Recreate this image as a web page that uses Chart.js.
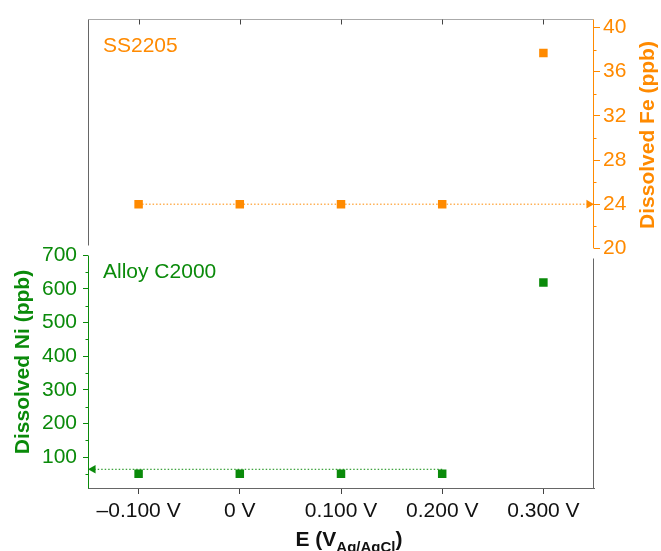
<!DOCTYPE html>
<html>
<head>
<meta charset="utf-8">
<script src="https://cdn.jsdelivr.net/npm/chart.js@4.4.0/dist/chart.umd.min.js"></script>
<style>
  body { margin: 0; background: #fff; }
  #wrap { width: 661px; height: 551px; }
</style>
</head>
<body>
<div id="wrap"><canvas id="myChart" width="661" height="551"></canvas></div>
<script>
// datos
const categories = ['\u20130.100 V', '0 V', '0.100 V', '0.200 V', '0.300 V']
const feValues = [24, 24, 24, 24, 37.7]
const niValues = [51, 51, 51, 51, 619]
const feTicks = [20, 24, 28, 32, 36, 40]
const niTicks = [100, 200, 300, 400, 500, 600, 700]
const feMinor = [22, 26, 30, 34, 38]
const niMinor = [50, 150, 250, 350, 450, 550, 650]
// lineas punteadas con flecha hacia el eje
const feGuideX = [0, 4.45]
const feGuideY = 24
const niGuideX = [3, -0.45]
const niGuideY = 64

const ORANGE = '#ff8a00'
const GREEN = '#0a8a0a'
const GREY = '#666'
const FONT = 'Liberation Sans, Arial, Helvetica, sans-serif'

Chart.defaults.font.family = FONT
Chart.defaults.animation = false

const toPts = arr => arr.map((v, i) => ({ x: i, y: v }))

// marcos, ticks menores y textos
const extras = {
  id: 'extras',
  beforeDatasetsDraw(chart) {
    const { ctx, chartArea: a, scales } = chart
    const fe = scales.yFe, ni = scales.yNi, x = scales.x
    const fe20 = Math.round(fe.getPixelForValue(20)) + 0.5
    const ni700 = Math.round(ni.getPixelForValue(700)) + 0.5
    const L = Math.round(a.left) + 0.5, R = Math.round(a.right) - 0.5
    const T = Math.round(a.top) + 0.5, B = Math.round(a.bottom) + 0.5
    ctx.save()
    ctx.lineWidth = 1
    const line = (x1, y1, x2, y2, c) => {
      ctx.strokeStyle = c
      ctx.beginPath(); ctx.moveTo(x1, y1); ctx.lineTo(x2, y2); ctx.stroke()
    }
    line(L, T, R, T, '#aaa')
    line(L, T, L, fe20 - 3, GREY)
    line(R, T, R, fe20, ORANGE)
    line(L, ni700, L, B, GREEN)
    line(R, ni700 + 3, R, B, GREY)
    // ticks arriba, hacia adentro
    categories.forEach((c, i) => {
      const px = Math.round(x.getPixelForValue(i)) + 0.5
      line(px, T, px, T + 5, '#444')
    })
    feMinor.forEach(v => {
      const py = Math.round(fe.getPixelForValue(v)) + 0.5
      line(R, py, R + 3, py, ORANGE)
    })
    niMinor.forEach(v => {
      const py = Math.round(ni.getPixelForValue(v)) + 0.5
      line(L, py, L - 3, py, GREEN)
    })
    ctx.restore()
  },
  afterDraw(chart) {
    const { ctx } = chart
    ctx.save()
    ctx.textBaseline = 'alphabetic'
    ctx.textAlign = 'left'
    ctx.font = '21px ' + FONT
    ctx.fillStyle = ORANGE
    ctx.fillText('SS2205', 103, 52)
    ctx.fillStyle = GREEN
    ctx.fillText('Alloy C2000', 103, 278)

    // titulo eje x con subindice
    const big = 'bold 21px ' + FONT, small = 'bold 15px ' + FONT
    ctx.font = big
    const w1 = ctx.measureText('E (V').width
    const w3 = ctx.measureText(')').width
    ctx.font = small
    const w2 = ctx.measureText('Ag/AgCl').width
    let sx = 349 - (w1 + w2 + w3) / 2
    ctx.fillStyle = '#111'
    ctx.font = big
    ctx.fillText('E (V', sx, 546)
    ctx.font = small
    ctx.fillText('Ag/AgCl', sx + w1, 552)
    ctx.font = big
    ctx.fillText(')', sx + w1 + w2, 546)

    // titulos ejes y
    ctx.textAlign = 'center'
    ctx.textBaseline = 'middle'
    ctx.font = big
    ctx.fillStyle = GREEN
    ctx.translate(23, 362)
    ctx.rotate(-Math.PI / 2)
    ctx.fillText('Dissolved Ni (ppb)', 0, 0)
    ctx.setTransform(1, 0, 0, 1, 0, 0)
    ctx.fillStyle = ORANGE
    ctx.translate(648, 135)
    ctx.rotate(-Math.PI / 2)
    ctx.fillText('Dissolved Fe (ppb)', 0, 0)
    ctx.restore()
  }
}

const ctx = document.getElementById('myChart')

new Chart(ctx, {
  type: 'scatter',
  data: {
    datasets: [
      {
        data: toPts(feValues), yAxisID: 'yFe',
        pointStyle: 'rect', pointRadius: 6, backgroundColor: ORANGE, borderWidth: 0
      },
      {
        data: toPts(niValues), yAxisID: 'yNi',
        pointStyle: 'rect', pointRadius: 6, backgroundColor: GREEN, borderWidth: 0
      },
      {
        data: feGuideX.map(v => ({ x: v, y: feGuideY })), yAxisID: 'yFe',
        showLine: true, borderColor: ORANGE, borderWidth: 1, borderDash: [1.5, 2],
        pointStyle: 'triangle', pointRadius: [0, 5], pointRotation: 90,
        backgroundColor: ORANGE, pointBorderWidth: 0
      },
      {
        data: niGuideX.map(v => ({ x: v, y: niGuideY })), yAxisID: 'yNi',
        showLine: true, borderColor: GREEN, borderWidth: 1, borderDash: [1.5, 2],
        pointStyle: 'triangle', pointRadius: [0, 5], pointRotation: -90,
        backgroundColor: GREEN, pointBorderWidth: 0
      }
    ]
  },
  options: {
    responsive: false,
    layout: { padding: { top: 16, left: 0, right: 0, bottom: 0 } },
    plugins: { legend: { display: false }, tooltip: { enabled: false } },
    scales: {
      x: {
        type: 'linear', position: 'bottom', min: -0.5, max: 4.5,
        afterBuildTicks: s => { s.ticks = categories.map((c, i) => ({ value: i })) },
        afterFit: s => { s.height = 63 },
        ticks: {
          callback: v => categories[v], color: '#111', font: { size: 21 },
          padding: 5, maxRotation: 0, autoSkip: false
        },
        grid: { drawOnChartArea: false, tickLength: 6, color: '#444' },
        border: { display: true, color: GREY }
      },
      yNi: {
        type: 'linear', position: 'left', min: 8.4, max: 1403.5,
        afterBuildTicks: s => { s.ticks = niTicks.map(v => ({ value: v })) },
        afterFit: s => { s.width = 88 },
        ticks: { color: GREEN, font: { size: 21 }, padding: 6 },
        grid: { drawOnChartArea: false, tickLength: 5, color: GREEN },
        border: { display: false }
      },
      yFe: {
        type: 'linear', position: 'right', min: -1.71, max: 40.81,
        afterBuildTicks: s => { s.ticks = feTicks.map(v => ({ value: v })) },
        afterFit: s => { s.width = 67 },
        ticks: { color: ORANGE, font: { size: 21 }, padding: 3 },
        grid: { drawOnChartArea: false, tickLength: 6, color: ORANGE },
        border: { display: false }
      }
    }
  },
  plugins: [extras]
})
</script>
</body>
</html>
